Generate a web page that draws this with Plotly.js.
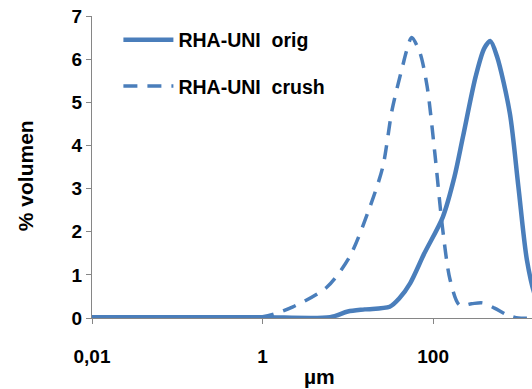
<!DOCTYPE html>
<html><head><meta charset="utf-8">
<script src="https://cdn.plot.ly/plotly-3.0.1.min.js"></script>
<style>html,body{margin:0;padding:0;background:#fff}#chart{width:532px;height:389px}</style>
</head><body><div id="chart"></div>
<script>
const seriesNames = ["RHA-UNI\u00a0\u00a0orig", "RHA-UNI\u00a0\u00a0crush"];
const origX = [0.01, 0.1, 1, 6.2, 10, 15.8, 31, 40, 54, 79, 130, 178, 224, 316, 398, 468, 562, 794, 1000, 1259, 1585, 2000];
const origY = [0.02, 0.02, 0.02, 0.02, 0.15, 0.2, 0.26, 0.45, 0.81, 1.5, 2.34, 3.27, 4.2, 5.6, 6.25, 6.42, 6.06, 4.75, 3.05, 1.35, 0.5, 0.15];
const crushX = [0.01, 0.1, 1, 2.27, 5.7, 10.5, 18.2, 25.7, 33.1, 44.7, 49, 56, 70, 85.1, 104.7, 128.8, 158.5, 204, 282, 380, 525, 741, 1000, 1585];
const crushY = [0.0, 0.0, 0.03, 0.26, 0.72, 1.42, 2.58, 3.5, 4.83, 5.9, 6.2, 6.5, 6.15, 5.37, 3.83, 2.1, 0.88, 0.3, 0.33, 0.35, 0.23, 0.07, 0.0, 0.0];
const xTickVals = [0.01, 1, 100];
const xTickText = ["0,01", "1", "100"];
const yTickVals = [0, 1, 2, 3, 4, 5, 6, 7];
const xTitle = "µm";
const yTitle = "% volumen";

const blue = "#4A7EBB";
const traces = [
  {x: origX, y: origY, name: seriesNames[0], type: "scatter", mode: "lines",
   line: {color: blue, width: 4.5, shape: "spline", smoothing: 0.8}, legendgroup: "a"},
  {x: crushX, y: crushY, name: seriesNames[1], type: "scatter", mode: "lines",
   line: {color: blue, width: 3.5, dash: "14px,10px", shape: "spline", smoothing: 0.8}, legendgroup: "b"}
];
const font = {family: "Liberation Sans, Arial, sans-serif", color: "#000"};
const layout = {
  width: 532, height: 389,
  margin: {l: 92, r: 0, t: 16, b: 71},
  paper_bgcolor: "#fff", plot_bgcolor: "#fff",
  showlegend: true,
  legend: {x: 0.06, y: 0.985, xanchor: "left", yanchor: "top", bgcolor: "rgba(0,0,0,0)",
           font: {family: font.family, size: 19.5, color: "#000", weight: "bold"}, tracegroupgap: 18, itemwidth: 50},
  xaxis: {type: "log", range: [-2, 3.16], tickvals: xTickVals, ticktext: xTickText,
          showgrid: false, zeroline: false, showline: true, linecolor: "#868686", linewidth: 1,
          ticks: "outside", ticklen: 5, tickcolor: "#868686", ticklabelstandoff: 16,
          tickfont: {family: font.family, size: 19, color: "#000", weight: "bold"}},
  yaxis: {range: [0, 7], tickvals: yTickVals, showgrid: false, zeroline: false, showline: true,
          linecolor: "#868686", linewidth: 1, ticks: "outside", ticklen: 5, tickcolor: "#868686",
          tickfont: {family: font.family, size: 19, color: "#000", weight: "bold"}},
  annotations: [
    {text: yTitle, xref: "paper", yref: "paper", x: -0.152, y: 0.47, textangle: -90, showarrow: false,
     xanchor: "center", yanchor: "middle", font: {family: font.family, size: 21, color: "#000", weight: "bold"}},
    {text: xTitle, xref: "paper", yref: "paper", x: 0.516, y: -0.195, showarrow: false,
     xanchor: "center", yanchor: "middle", font: {family: font.family, size: 21, color: "#000", weight: "bold"}}
  ]
};
Plotly.newPlot("chart", traces, layout, {displayModeBar: false, staticPlot: true});
</script></body></html>
